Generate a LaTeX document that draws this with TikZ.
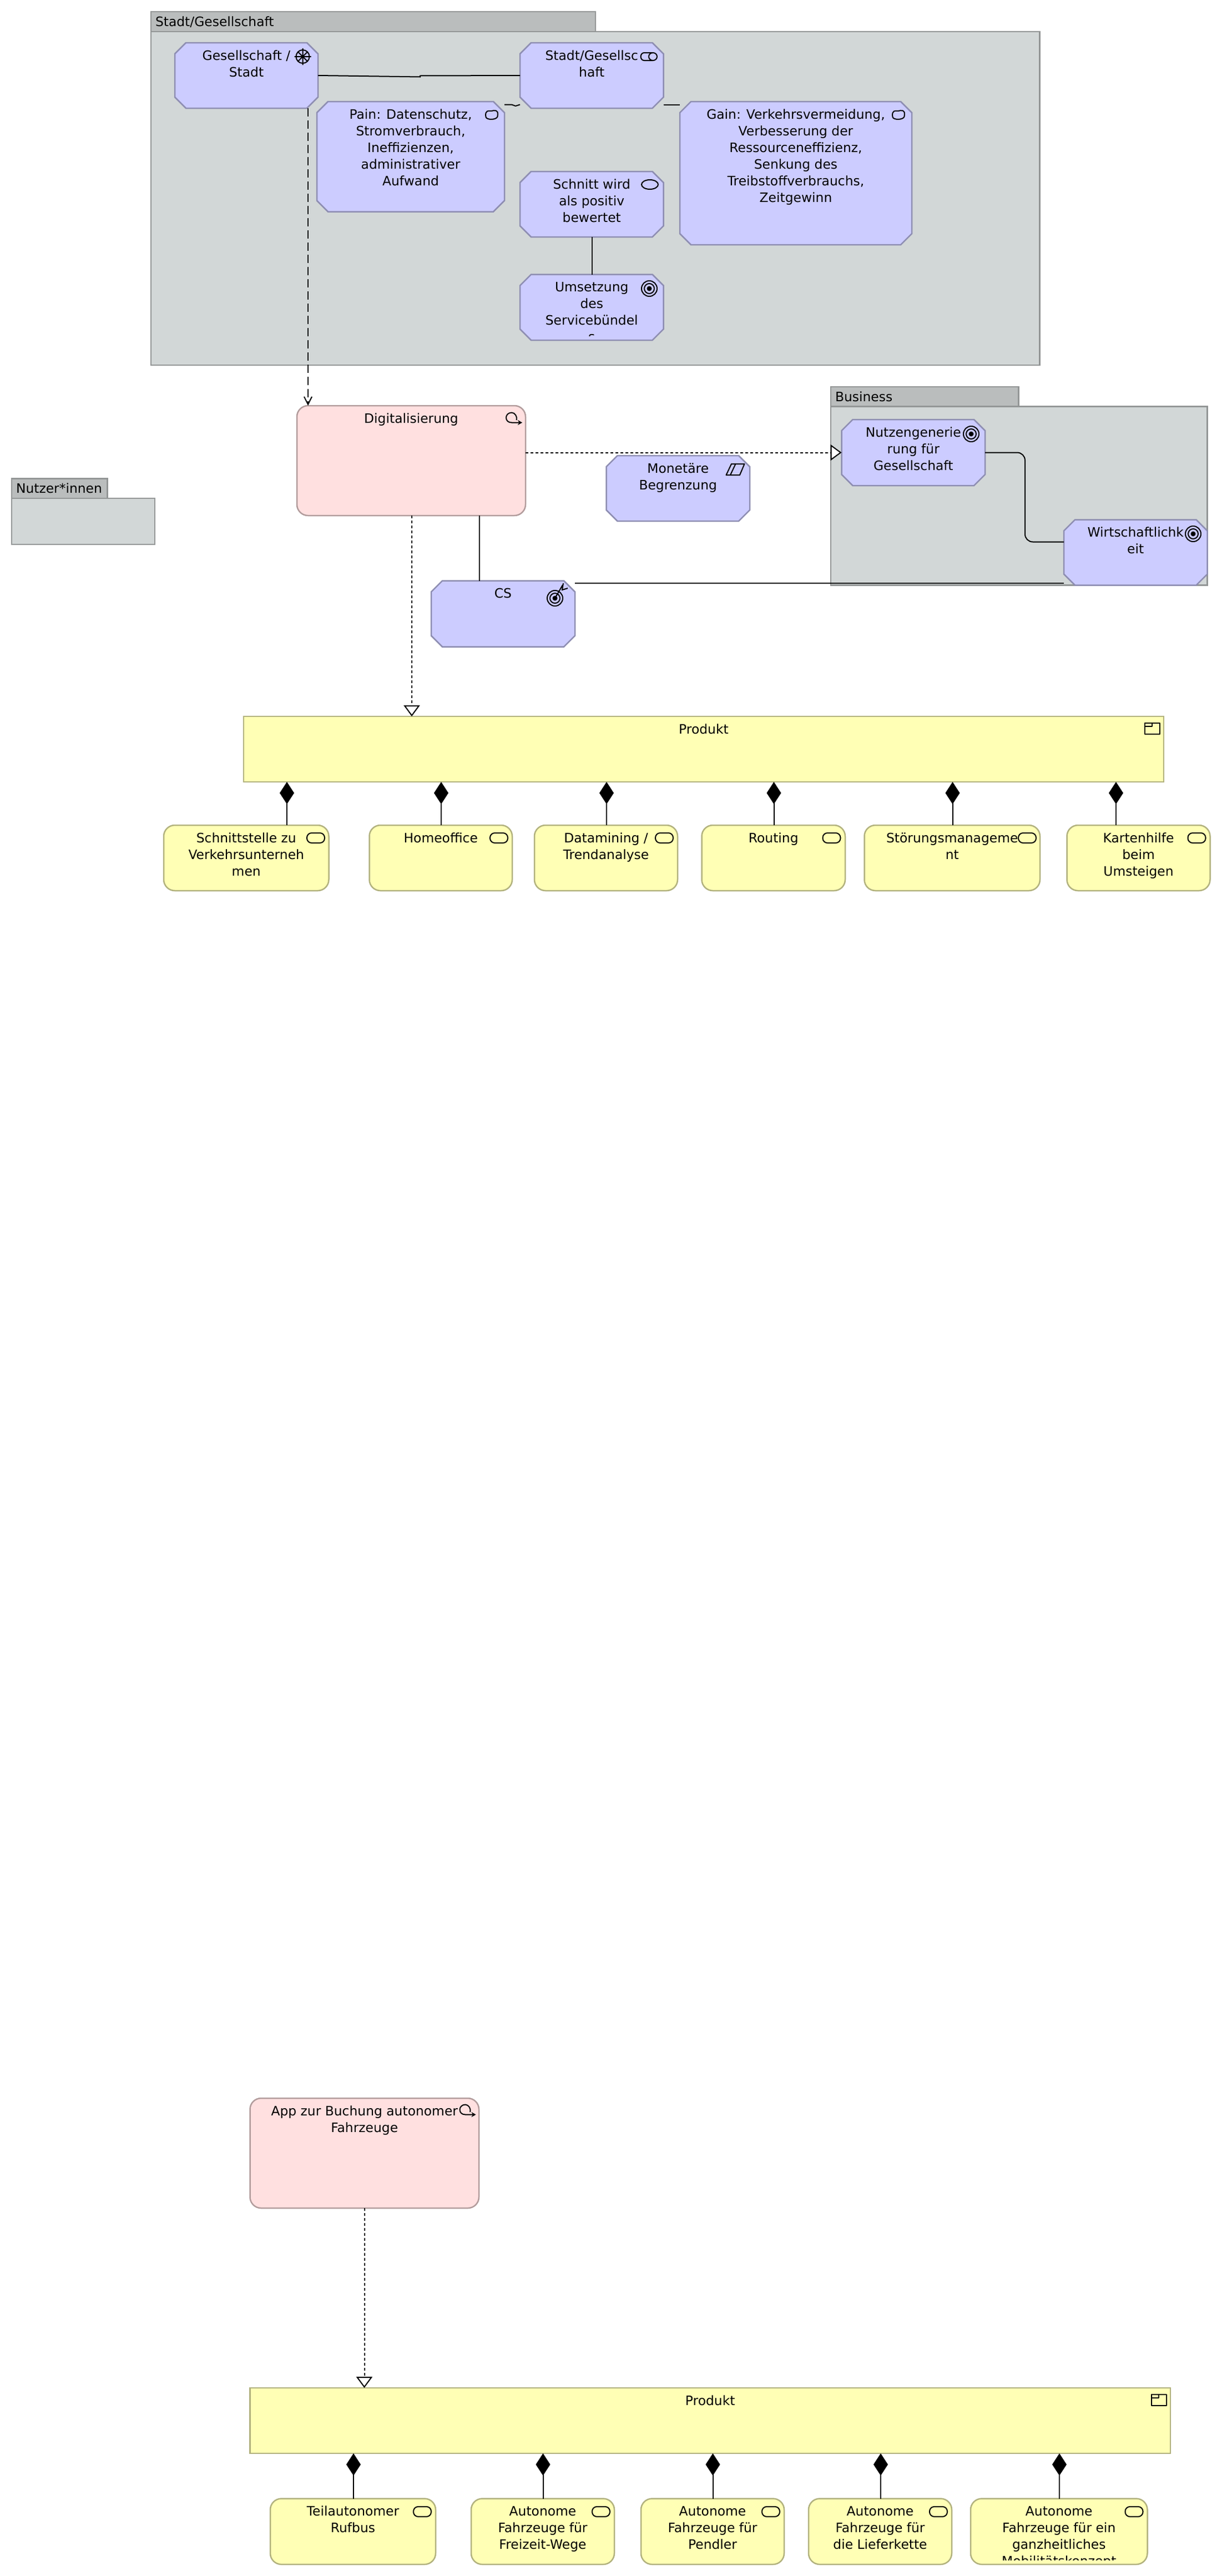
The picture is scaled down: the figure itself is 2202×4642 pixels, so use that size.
\documentclass[tikz,border=0pt]{standalone}
\usepackage{fontspec}
\setmainfont{DejaVu Sans}
\usetikzlibrary{arrows.meta,calc}
\definecolor{vio}{HTML}{CCCCFF}\definecolor{violn}{HTML}{8E8EB2}
\definecolor{pnk}{HTML}{FFE0E0}\definecolor{pnkln}{HTML}{B29C9C}
\definecolor{yel}{HTML}{FFFFB5}\definecolor{yelln}{HTML}{B2B27E}
\definecolor{grp}{HTML}{D2D7D7}\definecolor{grptab}{HTML}{BABDBD}\definecolor{grpln}{HTML}{939696}
\tikzset{
  lbl/.style={align=center,inner sep=0pt,outer sep=0pt,anchor=north,font=\fontsize{23.4}{30}\selectfont},
  tablbl/.style={inner sep=0pt,outer sep=0pt,anchor=base west,font=\fontsize{23.4}{30}\selectfont},
  motivline/.style={draw=violn,fill=vio,line width=2.5pt,line join=miter},
  motiv/.style={rectangle,inner sep=0pt,outer sep=0pt},
  proc/.style={rectangle,rounded corners=20pt,draw=pnkln,fill=pnk,line width=2.5pt,inner sep=0pt,outer sep=0pt},
  prodbox/.style={rectangle,draw=yelln,fill=yel,line width=2.5pt,inner sep=0pt,outer sep=0pt},
  svc/.style={rectangle,rounded corners=20pt,draw=yelln,fill=yel,line width=2.5pt,inner sep=0pt,outer sep=0pt},
  grpbody/.style={rectangle,draw=grpln,fill=grp,line width=2.5pt,inner sep=0pt,outer sep=0pt},
  grphead/.style={rectangle,draw=grpln,fill=grptab,line width=2.5pt,inner sep=0pt,outer sep=0pt},
  assoc/.style={line width=2pt,black},
  trig/.style={line width=2pt,black,dash pattern=on 15pt off 7pt,-{Straight Barb[length=14pt,width=14pt,line width=2pt]}},
  realize/.style={line width=2pt,black,dash pattern=on 4.5pt off 4.5pt,-{Triangle[length=20pt,width=29pt,fill=white,line width=2pt]}},
  compo/.style={line width=2pt,black,{Diamond[length=40pt,width=26pt,fill=black,line width=0pt]}-},
  ico/.style={line width=2pt,black,line join=round},
}
\newcommand{\elem}[7]{%
  \node[#2,minimum width={(#5-#3)*1pt},minimum height={(#6-#4)*1pt}] (#1) at ({(#3+#5)/2},{(#4+#6)/2}) {};
  \node[lbl] (#1-t) at ({(#3+#5)/2},{#4+9}) {\rule{0pt}{22pt}#7};
}
\newcommand{\chamfer}[4]{%
  \draw[motivline] ({#1+20},#2) -- ({#3-20},#2) -- (#3,{#2+20}) -- (#3,{#4-20}) -- ({#3-20},#4) -- ({#1+20},#4) -- (#1,{#4-20}) -- (#1,{#2+20}) -- cycle;
}
% name, x1, y1, x2, y2, text
\newcommand{\melem}[6]{\chamfer{#2}{#3}{#4}{#5}\elem{#1}{motiv}{#2}{#3}{#4}{#5}{#6}}
\newcommand{\elemclip}[8]{%
  \node[#2,minimum width={(#5-#3)*1pt},minimum height={(#6-#4)*1pt}] (#1) at ({(#3+#5)/2},{(#4+#6)/2}) {};
  \begin{scope}
    \clip (#3,#4) rectangle (#5,#8);
    \node[lbl] (#1-t) at ({(#3+#5)/2},{#4+9}) {\rule{0pt}{22pt}#7};
  \end{scope}
}
% name, x1, tabtop, tabright, bodytop, x2, y2, label
\newcommand{\grp}[8]{%
  \node[grpbody,minimum width={(#6-#2)*1pt},minimum height={(#7-#5)*1pt}] (#1) at ({(#2+#6)/2},{(#5+#7)/2}) {};
  \node[grphead,minimum width={(#4-#2)*1pt},minimum height={(#5-#3)*1pt}] (#1-tab) at ({(#2+#4)/2},{(#3+#5)/2}) {};
  \node[tablbl] (#1-t) at ({#2+8},{#5-9.5}) {#8};
}
\newcommand{\icgoal}[2]{\begin{scope}[shift={(#1,#2)}]
  \draw[ico] (0,0) circle[radius=14pt]; \draw[ico] (0,0) circle[radius=9pt]; \fill (0,0) circle[radius=4.5pt];
\end{scope}}
\newcommand{\icsvc}[2]{\begin{scope}[shift={(#1,#2)}]
  \draw[ico,rounded corners=8.5pt] (-16,-9) rectangle (16,9);
\end{scope}}
\newcommand{\icblob}[2]{\begin{scope}[shift={(#1,#2)}]
  \draw[ico] plot[smooth cycle,tension=0.8] coordinates {(-11,0) (-8,-6.5) (-1,-7) (8,-7.5) (11,-1) (7,6.5) (-7,7)};
\end{scope}}
\newcommand{\icproc}[2]{\begin{scope}[shift={(#1,#2)}]
  \draw[ico,-{Stealth[length=8pt,width=9pt]}] (3.7,3) .. controls (5.5,-3) and (1,-10.5) .. (-5,-10.5) .. controls (-11,-10.5) and (-15,-6) .. (-15,-1.5) .. controls (-15,4) and (-11,7.5) .. (-5,7.5) -- (14,7.5);
\end{scope}}
\newcommand{\icprod}[2]{\begin{scope}[shift={(#1,#2)}]
  \draw[ico] (-13.5,-10) rectangle (13.5,10);
  \draw[ico] (-13.5,-4) -- (0,-4) -- (0,-10);
\end{scope}}
\begin{document}
\begin{tikzpicture}[x=1pt,y=-1pt]
\useasboundingbox (0,0) rectangle (2202,4642);
\fill[white] (0,0) rectangle (2202,4642);

% groups
\grp{gstadt}{272}{21}{1073}{57}{1873.5}{658}{Stadt/Gesellschaft}
\grp{gnutzer}{21}{862.5}{193.5}{898}{279}{981}{Nutzer*innen}
\grp{gbiz}{1497}{697}{1835.5}{732.5}{2175.5}{1054.5}{Business}

% motivation elements
\melem{gs}{315}{77}{573}{195}{Gesellschaft /\\Stadt}
\melem{pain}{571}{183}{909}{381.5}{Pain: Datenschutz,\\Stromverbrauch,\\Ineffizienzen,\\administrativer\\Aufwand}
\melem{st}{937}{77}{1195.5}{195}{Stadt/Gesellsc\\haft}
\melem{gain}{1225}{183}{1643}{441}{Gain: Verkehrsvermeidung,\\Verbesserung der\\Ressourceneffizienz,\\Senkung des\\Treibstoffverbrauchs,\\Zeitgewinn}
\melem{schn}{937}{309}{1195.5}{427}{Schnitt wird\\als positiv\\bewertet}
\chamfer{937}{494.5}{1195.5}{613}
\elemclip{ums}{motiv}{937}{494.5}{1195.5}{613}{Umsetzung\\des\\Servicebündel\\s}{605}
\elem{dig}{proc}{535}{731}{947}{929}{Digitalisierung}
\melem{cs}{777}{1046.5}{1036}{1165.5}{CS}
\melem{mon}{1092.5}{821}{1351}{939}{Monetäre\\Begrenzung}
\melem{nut}{1516.5}{756}{1775}{875}{Nutzengenerie\\rung für\\Gesellschaft}
\melem{wir}{1917}{936.5}{2175.5}{1054.5}{Wirtschaftlichk\\eit}

% first product
\elem{pr1}{prodbox}{439}{1291}{2097}{1409}{Produkt}
\elem{c1}{svc}{295}{1487}{592.5}{1605}{Schnittstelle zu\\Verkehrsunterneh\\men}
\elem{c2}{svc}{665.5}{1487}{923}{1605}{Homeoffice}
\elem{c3}{svc}{963}{1487}{1221}{1605}{Datamining /\\Trendanalyse}
\elem{c4}{svc}{1264.5}{1487}{1523}{1605}{Routing}
\elem{c5}{svc}{1557.5}{1487}{1874}{1605}{Störungsmanageme\\nt}
\elem{c6}{svc}{1922.5}{1487}{2180.5}{1605}{Kartenhilfe\\beim\\Umsteigen}

% second block
\elem{app}{proc}{450.5}{3781}{863}{3979}{App zur Buchung autonomer\\Fahrzeuge}
\elem{pr2}{prodbox}{450.5}{4303}{2109}{4421}{Produkt}
\elem{d1}{svc}{487}{4502.5}{785}{4621}{Teilautonomer\\Rufbus}
\elem{d2}{svc}{849}{4502.5}{1107}{4621}{Autonome\\Fahrzeuge für\\Freizeit-Wege}
\elem{d3}{svc}{1155}{4502.5}{1413}{4621}{Autonome\\Fahrzeuge für\\Pendler}
\elem{d4}{svc}{1457}{4502.5}{1715}{4621}{Autonome\\Fahrzeuge für\\die Lieferkette}
\elemclip{d5}{svc}{1749}{4502.5}{2067.5}{4621}{Autonome\\Fahrzeuge für ein\\ganzheitliches\\Mobilitätskonzept}{4613}

% icons
\begin{scope}[shift={(545.5,102)}]
  \draw[ico] (0,0) circle[radius=12pt];
  \draw[ico] (-15,0) -- (15,0) (0,-15) -- (0,15) (-8.5,-8.5) -- (8.5,8.5) (-8.5,8.5) -- (8.5,-8.5);
\end{scope}
\icblob{886}{207}
\icblob{1619}{207}
\begin{scope}[shift={(1169.5,102)}]
  \draw[ico] (7,-7) -- (-8.5,-7) .. controls (-17,-7) and (-17,7) .. (-8.5,7) -- (7,7);
  \draw[ico] (7,0) ellipse[x radius=7.5pt,y radius=7pt];
\end{scope}
\draw[ico] (1171,332.5) ellipse[x radius=15pt,y radius=8.5pt];
\icgoal{1170}{520}
\icgoal{1750}{782}
\icgoal{2150}{962}
\begin{scope}[shift={(1000,1078)}]
  \draw[ico] (0,0) circle[radius=14pt]; \draw[ico] (0,0) circle[radius=9pt]; \fill (0,0) circle[radius=4.5pt];
  \draw[line width=2pt] (0,0) -- (14,-24) (15,-27) -- (13,-15) -- (23,-18);
\end{scope}
\begin{scope}[shift={(1325.5,846)}]
  \draw[ico] (-7.5,-10) -- (16,-10) -- (7.5,10) -- (-17,10) -- cycle;
  \draw[ico] (0,-10) -- (-9.5,10);
\end{scope}
\icproc{927}{754}
\icproc{843.5}{3803}
\icprod{2076}{1312.5}
\icprod{2088}{4325}
\icsvc{569}{1510}\icsvc{899}{1510}\icsvc{1197}{1510}\icsvc{1498.5}{1510}\icsvc{1851}{1510}\icsvc{2156.5}{1510}
\icsvc{761}{4526}\icsvc{1083}{4526}\icsvc{1389}{4526}\icsvc{1691}{4526}\icsvc{2043.5}{4526}

% helper coordinates
\coordinate (kgs) at (555,0);
\coordinate (kdc) at (864,0);
\coordinate (kdp) at (742,0);
\coordinate (kpg) at (0,188.5);
\coordinate (kel) at (1847,976.5);
\coordinate (kcw) at (0,1050.5);
\coordinate (ksc) at (1067,0);
\coordinate (kap) at (656.5,0);
\coordinate (ka1) at (517,0);
\coordinate (ka2) at (795,0);
\coordinate (ka3) at (1093,0);
\coordinate (ka4) at (1394.5,0);
\coordinate (ka5) at (1716.5,0);
\coordinate (ka6) at (2011,0);
\coordinate (kb1) at (637,0);
\coordinate (kb2) at (978.5,0);
\coordinate (kb3) at (1284.5,0);
\coordinate (kb4) at (1587,0);
\coordinate (kb5) at (1909,0);
\coordinate (kj1) at (757,138.5);
\coordinate (kj2) at (757,136.5);
\coordinate (kj3) at (922,188.5);
\coordinate (kj4) at (929,191);

% connectors
\draw[assoc] (gs.east) -- (kj1) -- (kj2) -- (st.west);
\draw[assoc] (pain.east |- kpg) -- (kj3) -- (kj4) -- (st.west |- kpg);
\draw[assoc] (st.east |- kpg) -- (gain.west |- kpg);
\draw[assoc] (schn.south -| ksc) -- (ums.north -| ksc);
\draw[trig] (gs.south -| kgs) -- (dig.north -| kgs);
\draw[assoc] (dig.south -| kdc) -- (cs.north -| kdc);
\draw[realize] (dig.south -| kdp) -- (pr1.north -| kdp);
\draw[realize] (dig.east |- nut.west) -- (nut.west);
\draw[assoc,rounded corners=14pt] (nut.east) -- (nut.east -| kel) -- (kel) -- (wir.west |- kel);
\draw[assoc] (cs.east |- kcw) -- (wir.west |- kcw);
\foreach \a/\b in {c1/ka1,c2/ka2,c3/ka3,c4/ka4,c5/ka5,c6/ka6}{
  \draw[compo] (pr1.south -| \b) -- (\a.north -| \b);
}
\draw[realize] (app.south -| kap) -- (pr2.north -| kap);
\foreach \a/\b in {d1/kb1,d2/kb2,d3/kb3,d4/kb4,d5/kb5}{
  \draw[compo] (pr2.south -| \b) -- (\a.north -| \b);
}
\end{tikzpicture}
\end{document}
